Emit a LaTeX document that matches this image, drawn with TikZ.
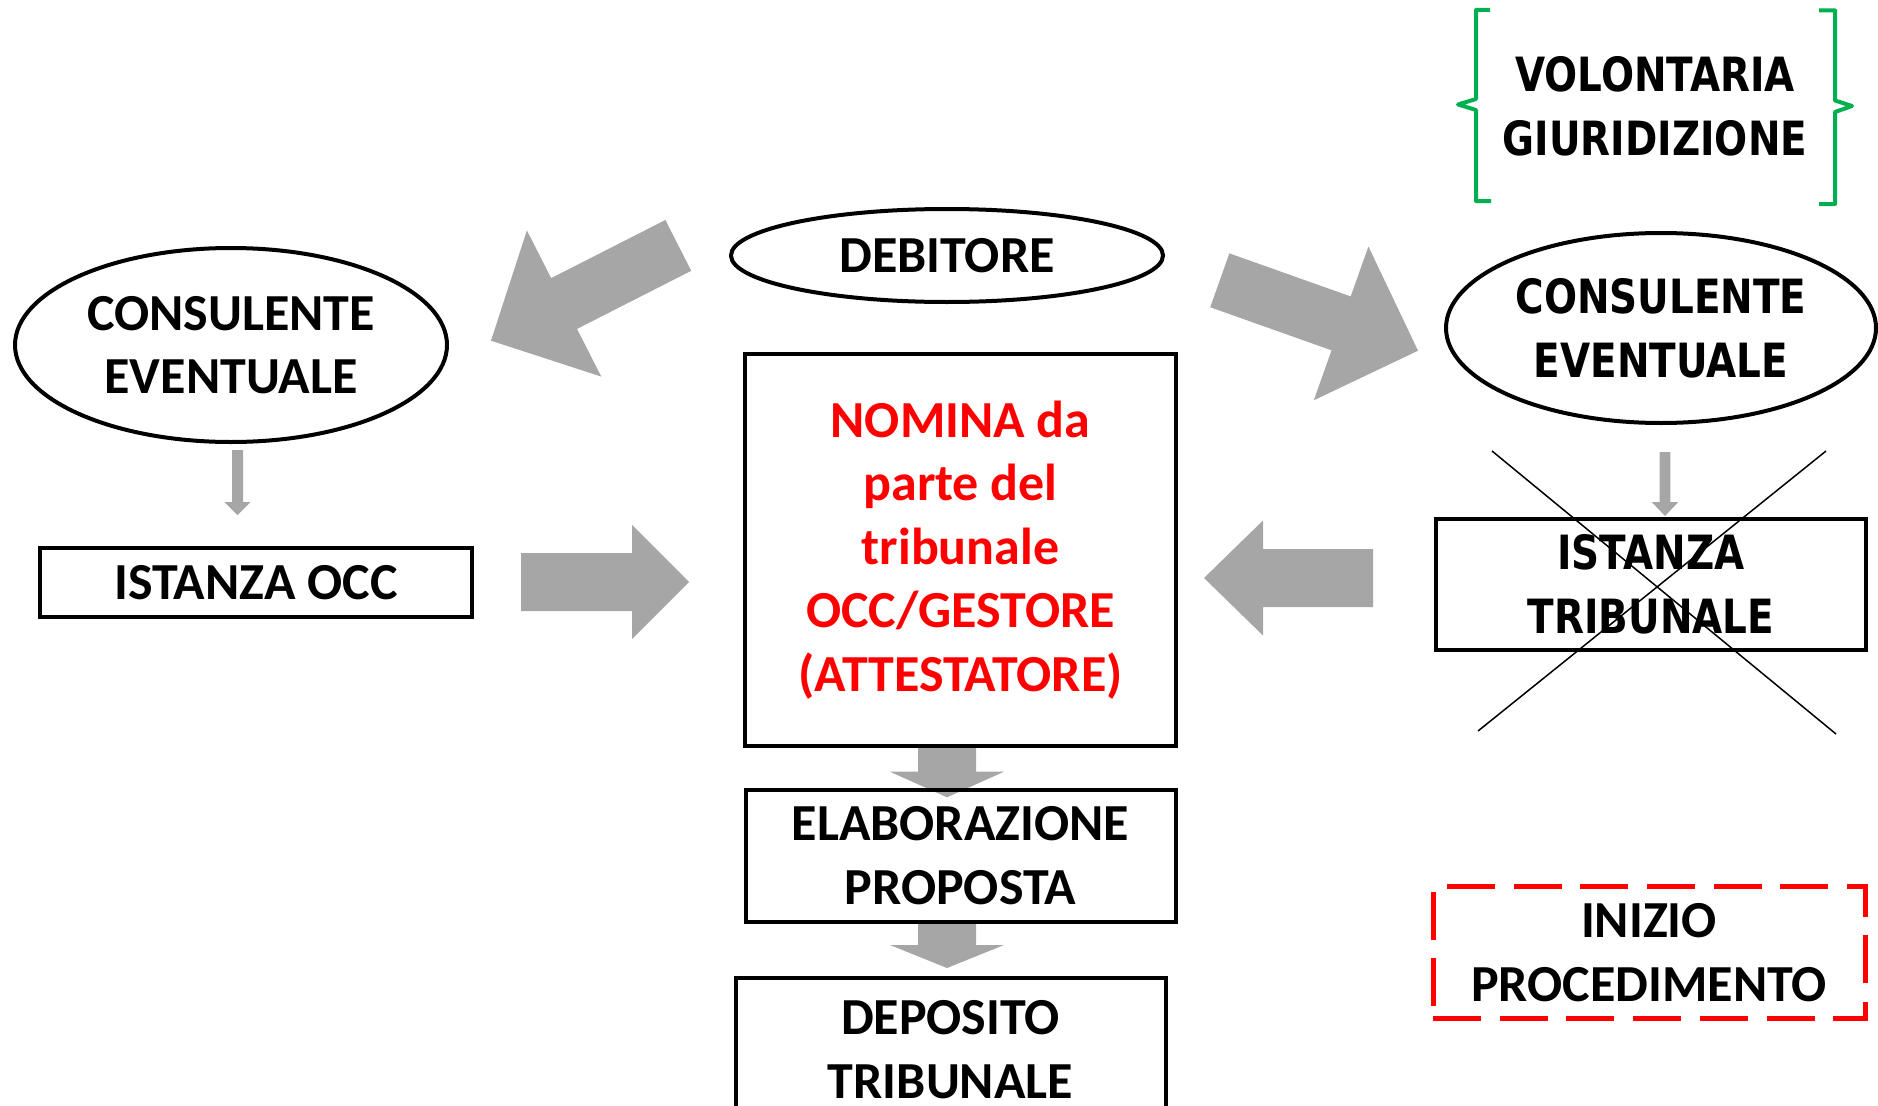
\documentclass[tikz,border=0pt]{standalone}
\usepackage{fontspec}
\setmainfont{Carlito}
\newfontfamily\verdfont[FakeStretch=0.825]{DejaVu Sans}
\definecolor{arrowgray}{RGB}{166,166,166}
\definecolor{bracegreen}{RGB}{0,176,80}
\usetikzlibrary{positioning}
\usetikzlibrary{calc,shapes.geometric,backgrounds}

\newcommand{\blockarrow}[5]{%
  \path ($(#2)!#5!(#1)$) coordinate (ba);
  \fill[arrowgray] ($(#1)!#3!90:(#2)$) -- ($(ba)!#3!90:(#2)$) -- ($(ba)!#4!90:(#2)$) -- (#2)
    -- ($(ba)!#4!-90:(#2)$) -- ($(ba)!#3!-90:(#2)$) -- ($(#1)!#3!-90:(#2)$) -- cycle;
}

\begin{document}
\begin{tikzpicture}[x=1pt,y=-1pt]
  \tikzset{node distance = 40pt and 2cm}
  \tikzset{txt/.style={font=\fontsize{52}{63.5}\selectfont\bfseries, align=center, inner sep=0pt},
    vtxt/.style={font=\verdfont\fontsize{47.2}{64}\selectfont\bfseries, align=center, inner sep=0pt},
    box/.style={draw, rectangle, line width=4pt},
    oval/.style={draw, ellipse, line width=4pt}}

  \useasboundingbox (0,0) rectangle (1878,1105);
  \clip (0,0) rectangle (1878,1105);

  \node[oval, txt, minimum width=432pt, minimum height=93pt] (deb) at (947,255.5) {DEBITORE};
  \node[oval, txt, minimum width=432pt, minimum height=194pt] (cons1) at (231,345) {CONSULENTE\\EVENTUALE};
  \node[oval, vtxt, minimum width=430pt, minimum height=190pt] (cons2) at (1661,328) {CONSULENTE\\EVENTUALE};
  \node[vtxt] (volont) at (1655,106) {VOLONTARIA\\GIURIDIZIONE};
  \node[box, txt, minimum width=432pt, minimum height=69pt] (occ) at (256,582.5) {ISTANZA OCC};
  \node[box, vtxt, minimum width=430pt, minimum height=131pt] (trib) at (1651,584.5) {ISTANZA\\TRIBUNALE};
  \node[box, txt, text=red, minimum width=431pt, minimum height=392pt] (nom) at (960.5,550) {NOMINA da\\parte del\\tribunale\\OCC/GESTORE\\(ATTESTATORE)};
  \node[box, txt, minimum width=430pt, minimum height=131.7pt, below=of nom] (elab) {ELABORAZIONE\\PROPOSTA};
  \node[box, txt, minimum width=430pt, minimum height=143pt, below=52.3pt of elab, xshift=-10pt] (dep) {DEPOSITO\\TRIBUNALE};
  \node[box, txt, draw=red, line width=5pt, dash pattern=on 48pt off 18.7pt, minimum width=432pt, minimum height=131.6pt] (inizio) at (1649,952.5) {INIZIO\\PROCEDIMENTO};

  \draw[bracegreen, line width=4pt, line join=round] (1490,10) -- (1476,10) -- (1476,99) -- (1458,104.5) -- (1476,110) -- (1476,201) -- (1491,201);
  \draw[bracegreen, line width=4pt, line join=round] (1819,10.5) -- (1835,10.5) -- (1835,100.5) -- (1852,106) -- (1835,112) -- (1835,204) -- (1819,204);

  \draw[line width=1.5pt] (1492,451) -- (1836,734);
  \draw[line width=1.5pt] (1826,451) -- (1478,731);

  \begin{scope}[on background layer]
    \coordinate (dl1) at (678.3,245.4);
    \coordinate (dl2) at (491,340.7);
    \coordinate (dr1) at (1219.8,280.3);
    \coordinate (dr2) at (1418,350.7);
    \coordinate (oc1) at (521,582);
    \coordinate (oc2) at (689,582);
    \coordinate (tr1) at (1373,578);
    \coordinate (tr2) at (1204,578);
    \coordinate (n1) at (947,745);
    \coordinate (n2) at (947,797.3);
    \coordinate (e1) at (947,921.7);
    \coordinate (e2) at (947,968);
    \coordinate (c1a) at (237.5,450);
    \coordinate (c1b) at (237.5,515);
    \coordinate (c2a) at (1665,452);
    \coordinate (c2b) at (1665,516);
    \blockarrow{dl1}{dl2}{28.5pt}{82pt}{82pt}
    \blockarrow{dr1}{dr2}{28.6pt}{81.6pt}{81.6pt}
    \blockarrow{oc1}{oc2}{29pt}{57pt}{57pt}
    \blockarrow{tr1}{tr2}{29pt}{57.5pt}{59pt}
    \blockarrow{n1}{n2}{29pt}{57pt}{25.6pt}
    \blockarrow{e1}{e2}{29pt}{57pt}{23pt}
    \blockarrow{c1a}{c1b}{5.5pt}{13pt}{13pt}
    \blockarrow{c2a}{c2b}{5.3pt}{13.3pt}{14pt}
  \end{scope}
\end{tikzpicture}
\end{document}
